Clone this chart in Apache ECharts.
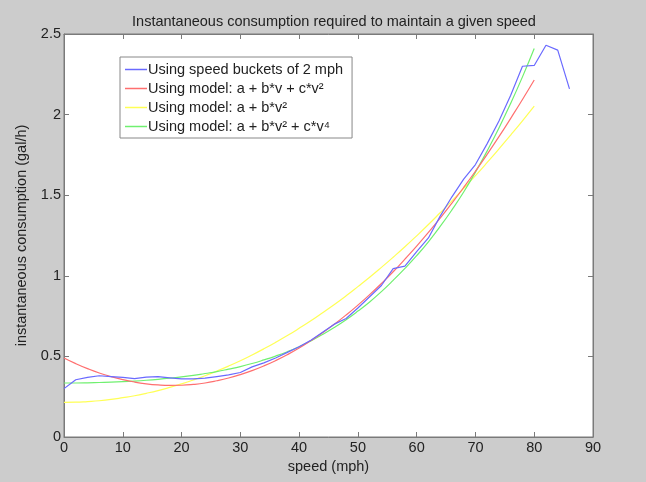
<!DOCTYPE html>
<html>
<head>
<meta charset="utf-8">
<script src="https://cdn.jsdelivr.net/npm/echarts@6/dist/echarts.min.js"></script>
<style>
  html, body { margin: 0; padding: 0; background: #cccccc; }
  #chart { width: 646px; height: 482px; }
</style>
</head>
<body>
<div id="chart"></div>
<script>
// measured: consumption per 2 mph speed bucket
var bucketSpeed = [0,2,4,6,8,10,12,14,16,18,20,22,24,26,28,30,32,34,36,38,40,42,44,46,48,50,52,54,56,58,60,62,64,66,68,70,72,74,76,78,80,82,84,86];
var bucketValue = [0.30,0.355,0.37,0.38,0.375,0.37,0.362,0.372,0.374,0.367,0.36,0.36,0.365,0.375,0.385,0.40,0.435,0.46,0.49,0.525,0.56,0.60,0.65,0.70,0.735,0.80,0.87,0.94,1.045,1.06,1.15,1.235,1.37,1.49,1.60,1.69,1.82,1.96,2.12,2.30,2.305,2.43,2.40,2.16];

// model curves, read at every 2 mph
var modelSpeed = [0,2,4,6,8,10,12,14,16,18,20,22,24,26,28,30,32,34,36,38,40,42,44,46,48,50,52,54,56,58,60,62,64,66,68,70,72,74,76,78,80];
var quadValue = [0.490,0.455,0.424,0.397,0.375,0.356,0.341,0.330,0.323,0.320,0.321,0.326,0.335,0.349,0.366,0.387,0.412,0.441,0.474,0.511,0.552,0.598,0.647,0.700,0.757,0.818,0.883,0.952,1.025,1.103,1.184,1.269,1.358,1.451,1.548,1.649,1.754,1.863,1.977,2.094,2.215];
var sqValue = [0.215,0.216,0.220,0.225,0.233,0.244,0.256,0.271,0.288,0.308,0.330,0.354,0.380,0.409,0.440,0.473,0.509,0.547,0.587,0.629,0.674,0.721,0.771,0.822,0.876,0.933,0.991,1.052,1.115,1.180,1.248,1.318,1.391,1.465,1.542,1.621,1.703,1.787,1.873,1.961,2.052];
var quartValue = [0.335,0.335,0.336,0.338,0.340,0.343,0.347,0.352,0.358,0.365,0.373,0.382,0.394,0.406,0.421,0.437,0.456,0.478,0.502,0.529,0.560,0.596,0.636,0.680,0.728,0.781,0.838,0.902,0.972,1.046,1.125,1.211,1.306,1.409,1.520,1.643,1.775,1.917,2.070,2.234,2.410];

var seriesNames = ['Using speed buckets of 2 mph','Using model: a + b*v + c*v²','Using model: a + b*v²','Using model: a + b*v² + c*v⁴'];
var seriesColors = ['#6a6aff','#ff6f6f','#ffff55','#70f070'];

function pairs(xs, ys){
  var out = [];
  for (var i = 0; i < ys.length; i++) out.push([xs[i], ys[i]]);
  return out;
}

var axisCol = '#7a7a7a';
var textCol = '#222';
var font = 'Liberation Sans, Arial, sans-serif';
var fs = 14.5;

function xAx(pos, show){
  return {
    type: 'value', position: pos, min: 0, max: 90, interval: 10,
    name: show ? 'speed (mph)' : '', nameLocation: 'middle', nameGap: 20,
    nameTextStyle: {color: textCol, fontSize: fs, fontFamily: font},
    axisLine: {show: true, onZero: false, lineStyle: {color: axisCol}},
    axisTick: {show: true, inside: true, length: 5, lineStyle: {color: axisCol}},
    axisLabel: {show: show, color: textCol, fontSize: fs, fontFamily: font, margin: 3},
    splitLine: {show: false}
  };
}
function yAx(pos, show){
  return {
    type: 'value', position: pos, min: 0, max: 2.5, interval: 0.5,
    name: show ? 'instantaneous consumption (gal/h)' : '', nameLocation: 'middle', nameGap: 35,
    nameTextStyle: {color: textCol, fontSize: fs, fontFamily: font},
    axisLine: {show: true, onZero: false, lineStyle: {color: axisCol}},
    axisTick: {show: true, inside: true, length: 5, lineStyle: {color: axisCol}},
    axisLabel: {show: show, color: textCol, fontSize: fs, fontFamily: font, margin: 3},
    splitLine: {show: false}
  };
}

var chart = echarts.init(document.getElementById('chart'));
chart.setOption({
  backgroundColor: '#cccccc',
  animation: false,
  title: {
    text: 'Instantaneous consumption required to maintain a given speed',
    left: 329, top: 9, textAlign: 'center',
    textStyle: {color: textCol, fontSize: fs, fontWeight: 'normal', fontFamily: font}
  },
  grid: {left: 64, top: 34, right: 53, bottom: 45, show: true, backgroundColor: '#ffffff', borderColor: axisCol, borderWidth: 1},
  legend: {
    orient: 'vertical', left: 120, top: 57,
    data: seriesNames.map(function(n){ return {name: n, icon: 'rect'}; }),
    itemWidth: 22, itemHeight: 1.5, itemGap: 4,
    padding: [5, 9, 4, 5],
    backgroundColor: '#ffffff', borderColor: '#888', borderWidth: 1, borderRadius: 0,
    textStyle: {color: textCol, fontSize: fs, fontFamily: font, padding: [0, 0, 0, -4]}
  },
  xAxis: [xAx('bottom', true), xAx('top', false)],
  yAxis: [yAx('left', true), yAx('right', false)],
  series: [
    {name: seriesNames[0], type: 'line', data: pairs(bucketSpeed, bucketValue), showSymbol: false, lineStyle: {width: 1.2}, z: 4},
    {name: seriesNames[1], type: 'line', data: pairs(modelSpeed, quadValue), showSymbol: false, smooth: true, lineStyle: {width: 1.2}, z: 3},
    {name: seriesNames[2], type: 'line', data: pairs(modelSpeed, sqValue), showSymbol: false, smooth: true, lineStyle: {width: 1.2}, z: 2},
    {name: seriesNames[3], type: 'line', data: pairs(modelSpeed, quartValue), showSymbol: false, smooth: true, lineStyle: {width: 1.2}, z: 2}
  ],
  color: seriesColors
});
</script>
</body>
</html>
